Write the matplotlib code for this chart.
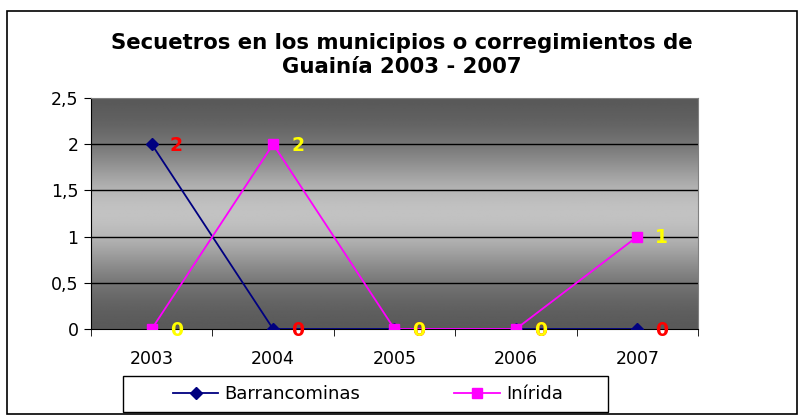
import numpy as np
import matplotlib
matplotlib.use("Agg")
import matplotlib.pyplot as plt
from matplotlib.patches import Rectangle

years = ["2003", "2004", "2005", "2006", "2007"]
barrancominas = [2, 0, 0, 0, 0]
inirida = [0, 2, 0, 0, 1]
yticks = [0, 0.5, 1, 1.5, 2, 2.5]
ytick_labels = ["0", "0,5", "1", "1,5", "2", "2,5"]

W, H = 804, 415
fig = plt.figure(figsize=(W / 100, H / 100), dpi=100)
fig.patch.set_facecolor("white")

# outer chart border
fig.add_artist(Rectangle((7 / W, 1 / H), 790 / W, 403 / H, transform=fig.transFigure,
                         fill=False, ec="black", lw=1.2))

ax = fig.add_axes([91 / W, 1 - 329 / H, 607 / W, 231 / H])
x = np.arange(len(years))
ax.set_xlim(-0.5, len(years) - 0.5)
ax.set_ylim(0, 2.5)

# vertical gradient background: dark top and bottom, light middle
t = np.linspace(0, 1, 256)
shade = 0.33 + 0.43 * np.exp(-((t - 0.5) / 0.28) ** 2)
grad = np.repeat(shade[:, None], 2, axis=1)
ax.imshow(grad, cmap="gray", vmin=0, vmax=1, aspect="auto",
          extent=[-0.5, len(years) - 0.5, 0, 2.5], origin="lower", zorder=0)

for yv in yticks[1:-1]:
    ax.axhline(yv, color="black", lw=1, zorder=1)

ax.plot(x, barrancominas, "-D", color="#000080", lw=1.3, ms=6, zorder=3,
        label="Barrancominas")
ax.plot(x, inirida, "-s", color="#FF00FF", lw=1.3, ms=7, zorder=3, label="Inírida")

for xi, v in zip(x, barrancominas):
    ax.annotate(str(v), (xi, v), xytext=(13, -1), textcoords="offset points",
                color="#FF0000", fontsize=13.5, fontweight="bold", va="center",
                ha="left", zorder=4)
for xi, v in zip(x, inirida):
    ax.annotate(str(v), (xi, v), xytext=(13, -1), textcoords="offset points",
                color="#FFFF00", fontsize=13.5, fontweight="bold", va="center",
                ha="left", zorder=4)

ax.set_yticks(yticks)
ax.set_yticklabels(ytick_labels, fontsize=12.5)
ax.set_xticks(x)
ax.set_xticklabels(years, fontsize=12.5)
ax.set_xticks(np.arange(len(years) + 1) - 0.5, minor=True)
ax.tick_params(axis="x", which="major", length=0, pad=15)
ax.tick_params(axis="x", which="minor", length=5, color="black")
ax.tick_params(axis="y", length=5, pad=4)
ax.spines["top"].set_color("#808080")
ax.spines["right"].set_color("#808080")

fig.text(0.5, 1 - 55 / H, "Secuetros en los municipios o corregimientos de\nGuainía 2003 - 2007",
         ha="center", va="center", fontsize=15.3, fontweight="bold", linespacing=1.3)

# legend box drawn separately, legend entries inside it
fig.add_artist(Rectangle((123 / W, 1 - 412 / H), 485 / W, 36 / H,
                         transform=fig.transFigure, fill=False, ec="black", lw=1))
fig.legend(loc="center", bbox_to_anchor=(368 / W, 1 - 394 / H), ncol=2,
           fontsize=13, frameon=False, columnspacing=5.2, handlelength=2.5,
           handletextpad=0.35, borderpad=0)

fig.savefig("out.png", dpi=100)
